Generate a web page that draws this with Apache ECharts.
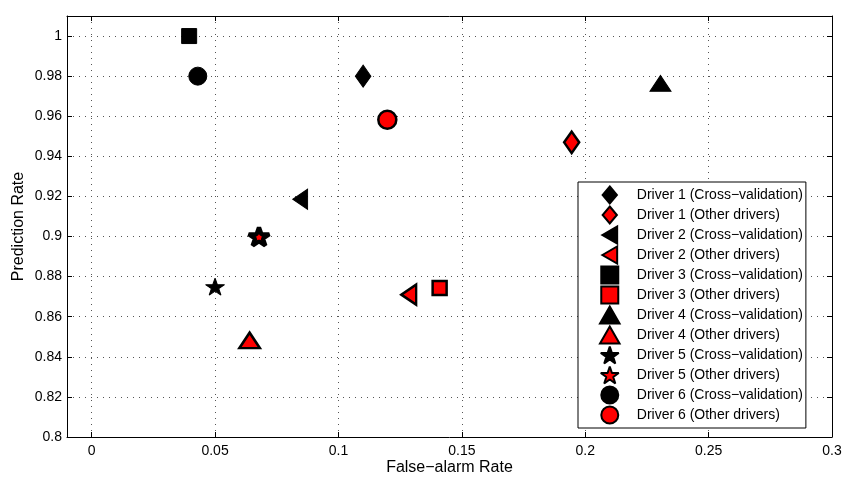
<!DOCTYPE html>
<html>
<head>
<meta charset="utf-8">
<script src="https://cdn.jsdelivr.net/npm/echarts@6/dist/echarts.min.js"></script>
<style>
html,body{margin:0;padding:0;background:#fff;}
#chart{width:842px;height:477px;}
</style>
</head>
<body>
<div id="chart"></div>
<script>
const driverNames = ['Driver 1', 'Driver 2', 'Driver 3', 'Driver 4', 'Driver 5', 'Driver 6'];
const cvSuffix = ' (Cross\u2212validation)';
const otherSuffix = ' (Other drivers)';
const cvX = [0.110, 0.0845, 0.0395, 0.2305, 0.050, 0.043];
const cvY = [0.980, 0.9186, 1.000, 0.9764, 0.875, 0.980];
const otherX = [0.1945, 0.1285, 0.141, 0.064, 0.0678, 0.1198];
const otherY = [0.947, 0.871, 0.8743, 0.8482, 0.900, 0.9582];
const xAxisName = 'False\u2212alarm Rate';
const yAxisName = 'Prediction Rate';

const P = {
  diamond: 'path://M42,0 L84,50 L42,100 L0,50 Z',
  left: 'path://M0,50 L87,0 L87,100 Z',
  rect: 'path://M0,0 L100,0 L100,100 L0,100 Z',
  up: 'path://M50,0 L100,87 L0,87 Z',
  star: 'path://M50,0 L61.8,35.4 L99,35.4 L68.9,57.3 L80.3,92.7 L50,70.8 L19.7,92.7 L31.1,57.3 L1,35.4 L38.2,35.4 Z',
  circle: 'path://M50,0 A50,50 0 1,1 50,100 A50,50 0 1,1 50,0 Z'
};
const shapes = [
  {symbol: P.diamond, cv: [18.5, 22], ot: [18, 21.5], bw: 2.5, join: 'miter'},
  {symbol: P.left, cv: [17, 20], ot: [17, 20], bw: 2.5, join: 'miter'},
  {symbol: P.rect, cv: [15, 15], ot: [14, 14], bw: 2.5, join: 'miter'},
  {symbol: P.up, cv: [21, 18.3], ot: [20.5, 17.8], bw: 2.5, join: 'miter'},
  {symbol: P.star, cv: [19, 17.8], ot: [20.5, 19.2], bw: 4.2, join: 'bevel'},
  {symbol: P.circle, cv: [18, 18], ot: [18, 18], bw: 2.5, join: 'miter'}
];

const series = [];
const legendData = [];
driverNames.forEach((d, i) => {
  const s = shapes[i];
  legendData.push(d + cvSuffix, d + otherSuffix);
  series.push({
    type: 'scatter', name: d + cvSuffix,
    symbol: s.symbol, symbolSize: s.cv, symbolKeepAspect: true,
    itemStyle: {color: '#000', borderColor: '#000', borderWidth: 1, borderJoin: s.join, opacity: 1},
    data: [[cvX[i], cvY[i]]], z: 3
  });
  series.push({
    type: 'scatter', name: d + otherSuffix,
    symbol: s.symbol, symbolSize: s.ot, symbolKeepAspect: true,
    itemStyle: {color: '#ff0000', borderColor: '#000', borderWidth: s.bw, borderJoin: s.join, opacity: 1},
    data: [[otherX[i], otherY[i]]], z: 3
  });
});

const font = '"Liberation Sans", Arial, Helvetica, sans-serif';
const fmt = v => String(+(+v).toFixed(4));
const dotted = {show: true, lineStyle: {color: '#555', type: [1, 5], width: 1}};

const option = {
  animation: false,
  backgroundColor: '#fff',
  textStyle: {fontFamily: font},
  grid: {left: 67, right: 10, top: 16, bottom: 40, containLabel: false, outerBoundsMode: 'none'},
  xAxis: [{
    type: 'value', min: -0.01, max: 0.3, splitNumber: 6,
    name: xAxisName, nameLocation: 'middle', nameGap: 23, nameMoveOverlap: false,
    nameTextStyle: {fontSize: 16, color: '#000', fontFamily: font},
    axisLine: {show: true, onZero: false, lineStyle: {color: '#000', width: 1}},
    axisTick: {show: true, inside: true, length: 5, lineStyle: {color: '#000'}},
    axisLabel: {color: '#000', fontSize: 14, margin: 7, fontFamily: font, showMinLabel: false, formatter: fmt},
    splitLine: dotted
  }, {
    type: 'value', min: -0.01, max: 0.3, splitNumber: 6, position: 'top',
    axisLine: {show: true, onZero: false, lineStyle: {color: '#000', width: 1}},
    axisTick: {show: true, inside: true, length: 5, lineStyle: {color: '#000'}},
    axisLabel: {show: false}, splitLine: {show: false}
  }],
  yAxis: [{
    type: 'value', min: 0.8, max: 1.01, interval: 0.02,
    name: yAxisName, nameLocation: 'middle', nameGap: 40, nameMoveOverlap: false,
    nameTextStyle: {fontSize: 16, color: '#000', fontFamily: font},
    axisLine: {show: true, onZero: false, lineStyle: {color: '#000', width: 1}},
    axisTick: {show: true, inside: true, length: 5, lineStyle: {color: '#000'}},
    axisLabel: {color: '#000', fontSize: 14, margin: 5, fontFamily: font, showMaxLabel: false, formatter: fmt},
    splitLine: dotted
  }, {
    type: 'value', min: 0.8, max: 1.01, interval: 0.02, position: 'right',
    axisLine: {show: true, onZero: false, lineStyle: {color: '#000', width: 1}},
    axisTick: {show: true, inside: true, length: 5, lineStyle: {color: '#000'}},
    axisLabel: {show: false}, splitLine: {show: false}
  }],
  legend: {
    data: legendData, orient: 'vertical', left: 578, top: 182,
    itemWidth: 44, itemHeight: 17, itemGap: 0,
    padding: [3, 3, 3, 21],
    backgroundColor: '#fff', borderColor: '#000', borderWidth: 1, borderRadius: 0,
    symbolKeepAspect: true,
    textStyle: {fontSize: 14, lineHeight: 20, color: '#000', fontFamily: font},
    selectedMode: false
  },
  series: series
};

const chart = echarts.init(document.getElementById('chart'), null, {renderer: 'canvas'});
chart.setOption(option);
</script>
</body>
</html>
